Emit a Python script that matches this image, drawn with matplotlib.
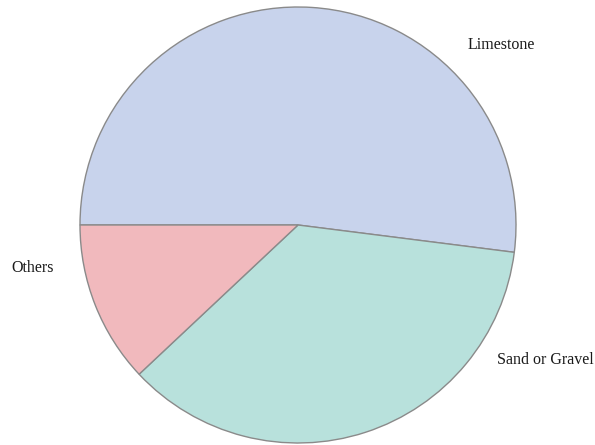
import matplotlib
matplotlib.use("Agg")
import matplotlib.pyplot as plt

categories = ["Limestone", "Sand or Gravel", "Others"]
values = [52, 36, 12]
colors = ["#c8d3ec", "#b8e1dc", "#f1b9bd"]

fig = plt.figure(figsize=(5.95, 4.45), dpi=100)
ax = fig.add_axes([0, 0, 1, 1])
H = 445
ax.pie(values, colors=colors, startangle=180, counterclock=False,
       center=(298, H - 225), radius=218, frame=True,
       wedgeprops=dict(edgecolor="#8a8a8a", linewidth=1.0))
ax.set_xlim(0, 595)
ax.set_ylim(0, H)
ax.axis("off")

label_pos = {"Limestone": (501, 45), "Sand or Gravel": (545, 360), "Others": (33, 268)}
for c in categories:
    x, y = label_pos[c]
    ax.text(x, H - y, c, ha="center", va="center", fontsize=11.5,
            family="Liberation Serif", color="#1a1a1a")

fig.savefig("out.png", dpi=100)
